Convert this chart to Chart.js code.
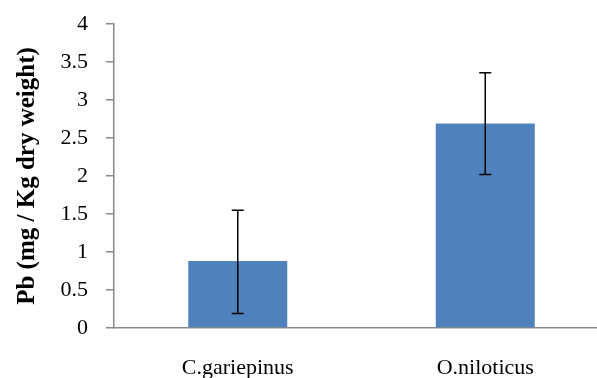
<!DOCTYPE html>
<html>
<head>
<meta charset="utf-8">
<script src="https://cdn.jsdelivr.net/npm/chart.js@4"></script>
<style>
  html, body { margin: 0; padding: 0; background: #fff; overflow: hidden; }
  #wrap { width: 612px; height: 378px; }
</style>
</head>
<body>
<div id="wrap"><canvas id="chart"></canvas></div>
<script>
'use strict';

// data
const categories = ['C.gariepinus', 'O.niloticus'];
const pbMeans = [0.88, 2.69];
const pbErrLow = [0.19, 2.02];
const pbErrHigh = [1.55, 3.36];
const yMin = 0;
const yMax = 4;
const yStep = 0.5;

const serif = "'Liberation Serif', 'Times New Roman', serif";
const axisGray = '#898989';

// whiskers drawn through the chart's own scales
const errorBars = {
  id: 'errorBars',
  afterDatasetsDraw(chart) {
    let ctx = chart.ctx;
    let xs = chart.scales.x;
    let ys = chart.scales.y;
    ctx.save();
    ctx.strokeStyle = '#000';
    ctx.lineWidth = 1.5;
    for (let i = 0; i < categories.length; i++) {
      let x = xs.getPixelForValue(i);
      let top = ys.getPixelForValue(pbErrHigh[i]);
      let bot = ys.getPixelForValue(pbErrLow[i]);
      ctx.beginPath();
      ctx.moveTo(x, top);
      ctx.lineTo(x, bot);
      ctx.moveTo(x - 6, top);
      ctx.lineTo(x + 6, top);
      ctx.moveTo(x - 6, bot);
      ctx.lineTo(x + 6, bot);
      ctx.stroke();
    }
    ctx.restore();
  }
};

let canvasElem = document.getElementById('chart');

const myChart = new Chart(canvasElem, {
  type: 'bar',
  data: {
    labels: categories,
    datasets: [{
      data: pbMeans,
      backgroundColor: '#4F81BD',
      borderWidth: 0,
      barPercentage: 0.4,
      categoryPercentage: 1
    }]
  },
  plugins: [errorBars],
  options: {
    responsive: true,
    maintainAspectRatio: false,
    animation: false,
    layout: { padding: { top: 24, right: 3, left: 0, bottom: 0 } },
    plugins: {
      legend: { display: false },
      tooltip: { enabled: false }
    },
    scales: {
      x: {
        grid: { display: false },
        border: { display: true, color: axisGray, width: 1.5 },
        ticks: {
          color: '#000',
          padding: 19,
          font: { family: serif, size: 22 }
        },
        afterFit: (s) => { s.height = 50; }
      },
      y: {
        min: yMin,
        max: yMax,
        grid: {
          drawOnChartArea: false,
          drawTicks: true,
          tickLength: 8,
          color: axisGray,
          lineWidth: 1.5
        },
        border: { display: true, color: axisGray, width: 1.5 },
        ticks: {
          stepSize: yStep,
          color: '#000',
          padding: 18,
          font: { family: serif, size: 22 },
          callback: (v) => String(v)
        },
        title: {
          display: true,
          text: 'Pb (mg / Kg dry weight)',
          color: '#000',
          padding: { top: 13, bottom: 0 },
          font: { family: serif, size: 25, weight: 'bold' }
        },
        afterFit: (s) => {
          s.width = 114;
          s.paddingTop = 0;
          s.paddingBottom = 0;
        }
      }
    }
  }
});
</script>
</body>
</html>
